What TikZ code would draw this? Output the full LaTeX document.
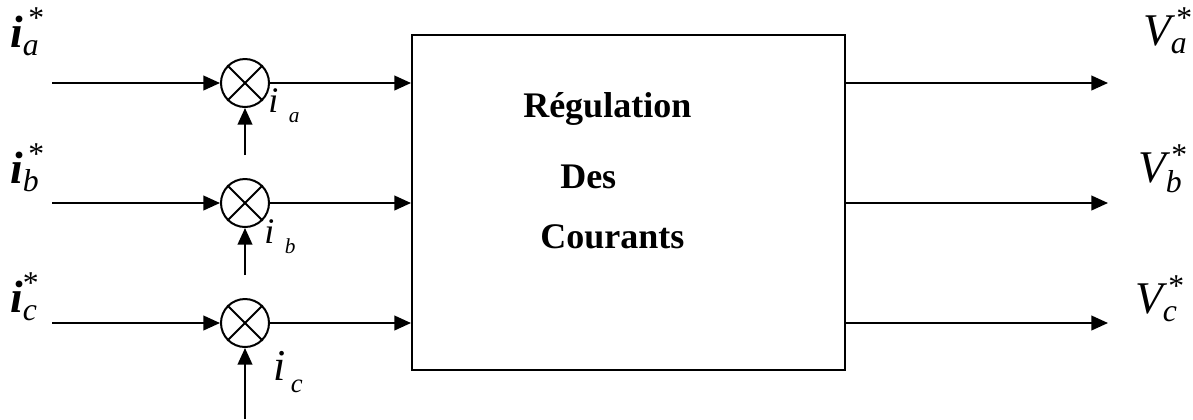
\documentclass[tikz,border=0pt]{standalone}
\usepackage{fontspec}
\setmainfont{Liberation Serif}
\usepackage{amsmath}
\usetikzlibrary{arrows.meta,positioning}
\tikzstyle{s}   = [circle, draw=black, line width=1.5pt, minimum size=36pt, inner sep=0pt]
\tikzstyle{blk} = [rectangle, draw=black, line width=1.5pt, minimum width=324.75pt, minimum height=251.25pt, inner sep=0pt]
\tikzstyle{w}   = [black, line width=1.5pt, -{Triangle[length=12.5pt,width=11pt]}]
\tikzstyle{lbl} = [inner sep=0pt, anchor=base west]
\tikzstyle{bt}  = [inner sep=0pt, anchor=base west, font=\fontsize{27}{27}\selectfont\bfseries]

\begin{document}
\begin{tikzpicture}
		[
			x=0.75pt, y=-0.75pt,
			big/.style={font=\fontsize{34}{34}\selectfont},
			fbk/.style={font=\fontsize{27}{27}\selectfont\itshape}
		]
		\useasboundingbox (0,0) rectangle (1193,419);
		% regulateur
		\node[blk] (box) at (628.5,202.5) {};
		\node[bt] (t1) at (523,117) {Régulation};
		\node[bt] (t2) at (560,188) {Des};
		\node[bt] (t3) at (540,248) {Courants};
		% comparateurs
		\node[s] (sa) at (245,83)  {};
		\node[s] (sb) at (245,203) {};
		\node[s] (sc) at (245,323) {};
		\foreach \n in {sa,sb,sc} {
			\draw[line width=1.5pt] (\n.north east) -- (\n.south west);
			\draw[line width=1.5pt] (\n.north west) -- (\n.south east);
		}
		% entrees
		\coordinate (ea) at (52,83);
		\coordinate (eb) at (52,203);
		\coordinate (ec) at (52,323);
		\coordinate (fa) at (245,155);
		\coordinate (fb) at (245,275);
		\coordinate (fc) at (245,419);
		\coordinate (oa) at (1108,83);
		\coordinate (ob) at (1108,203);
		\coordinate (oc) at (1108,323);
		\draw[w] (ea) -- (sa.west);
		\draw[w] (eb) -- (sb.west);
		\draw[w] (ec) -- (sc.west);
		\draw[w] (fa) -- (sa.south);
		\draw[w] (fb) -- (sb.south);
		\draw[w] (fc) -- (sc.south);
		\draw[w] (sa.east) -- (sa.east -| box.west);
		\draw[w] (sb.east) -- (sb.east -| box.west);
		\draw[w] (sc.east) -- (sc.east -| box.west);
		\draw[w] (box.east |- oa) -- (oa);
		\draw[w] (box.east |- ob) -- (ob);
		\draw[w] (box.east |- oc) -- (oc);
		% etiquettes
		\node[lbl, big] (ra) at (10,47)  {$\textbf{\textit{i}}^{\,\text{*}}_{\text{\itshape a}}$};
		\node[lbl, big] (rb) at (10,183) {$\textbf{\textit{i}}^{\,\text{*}}_{\text{\itshape b}}$};
		\node[lbl, big] (rc) at (10,312) {$\textbf{\textit{i}}^{\text{*}}_{\text{\itshape c}}$};
		\node[lbl, fbk] (ma) at (268,112) {i\hspace{8pt}\raisebox{-8pt}{\fontsize{16}{16}\selectfont a}};
		\node[lbl, fbk] (mb) at (264,243) {i\hspace{8pt}\raisebox{-8pt}{\fontsize{16}{16}\selectfont b}};
		\node[lbl, fbk, font=\fontsize{33}{33}\selectfont\itshape] (mc) at (273,380) {i\hspace{4pt}\raisebox{-9pt}{\fontsize{20}{20}\selectfont c}};
		\node[lbl, big] (va) at (1143,45)  {$\text{\itshape V}^{\,\text{*}}_{\text{\itshape a}}$};
		\node[lbl, big] (vb) at (1138,182) {$\text{\itshape V}^{\,\text{*}}_{\text{\itshape b}}$};
		\node[lbl, big] (vc) at (1135,313) {$\text{\itshape V}^{\,\text{*}}_{\text{\itshape c}}$};
	\end{tikzpicture}
\end{document}
